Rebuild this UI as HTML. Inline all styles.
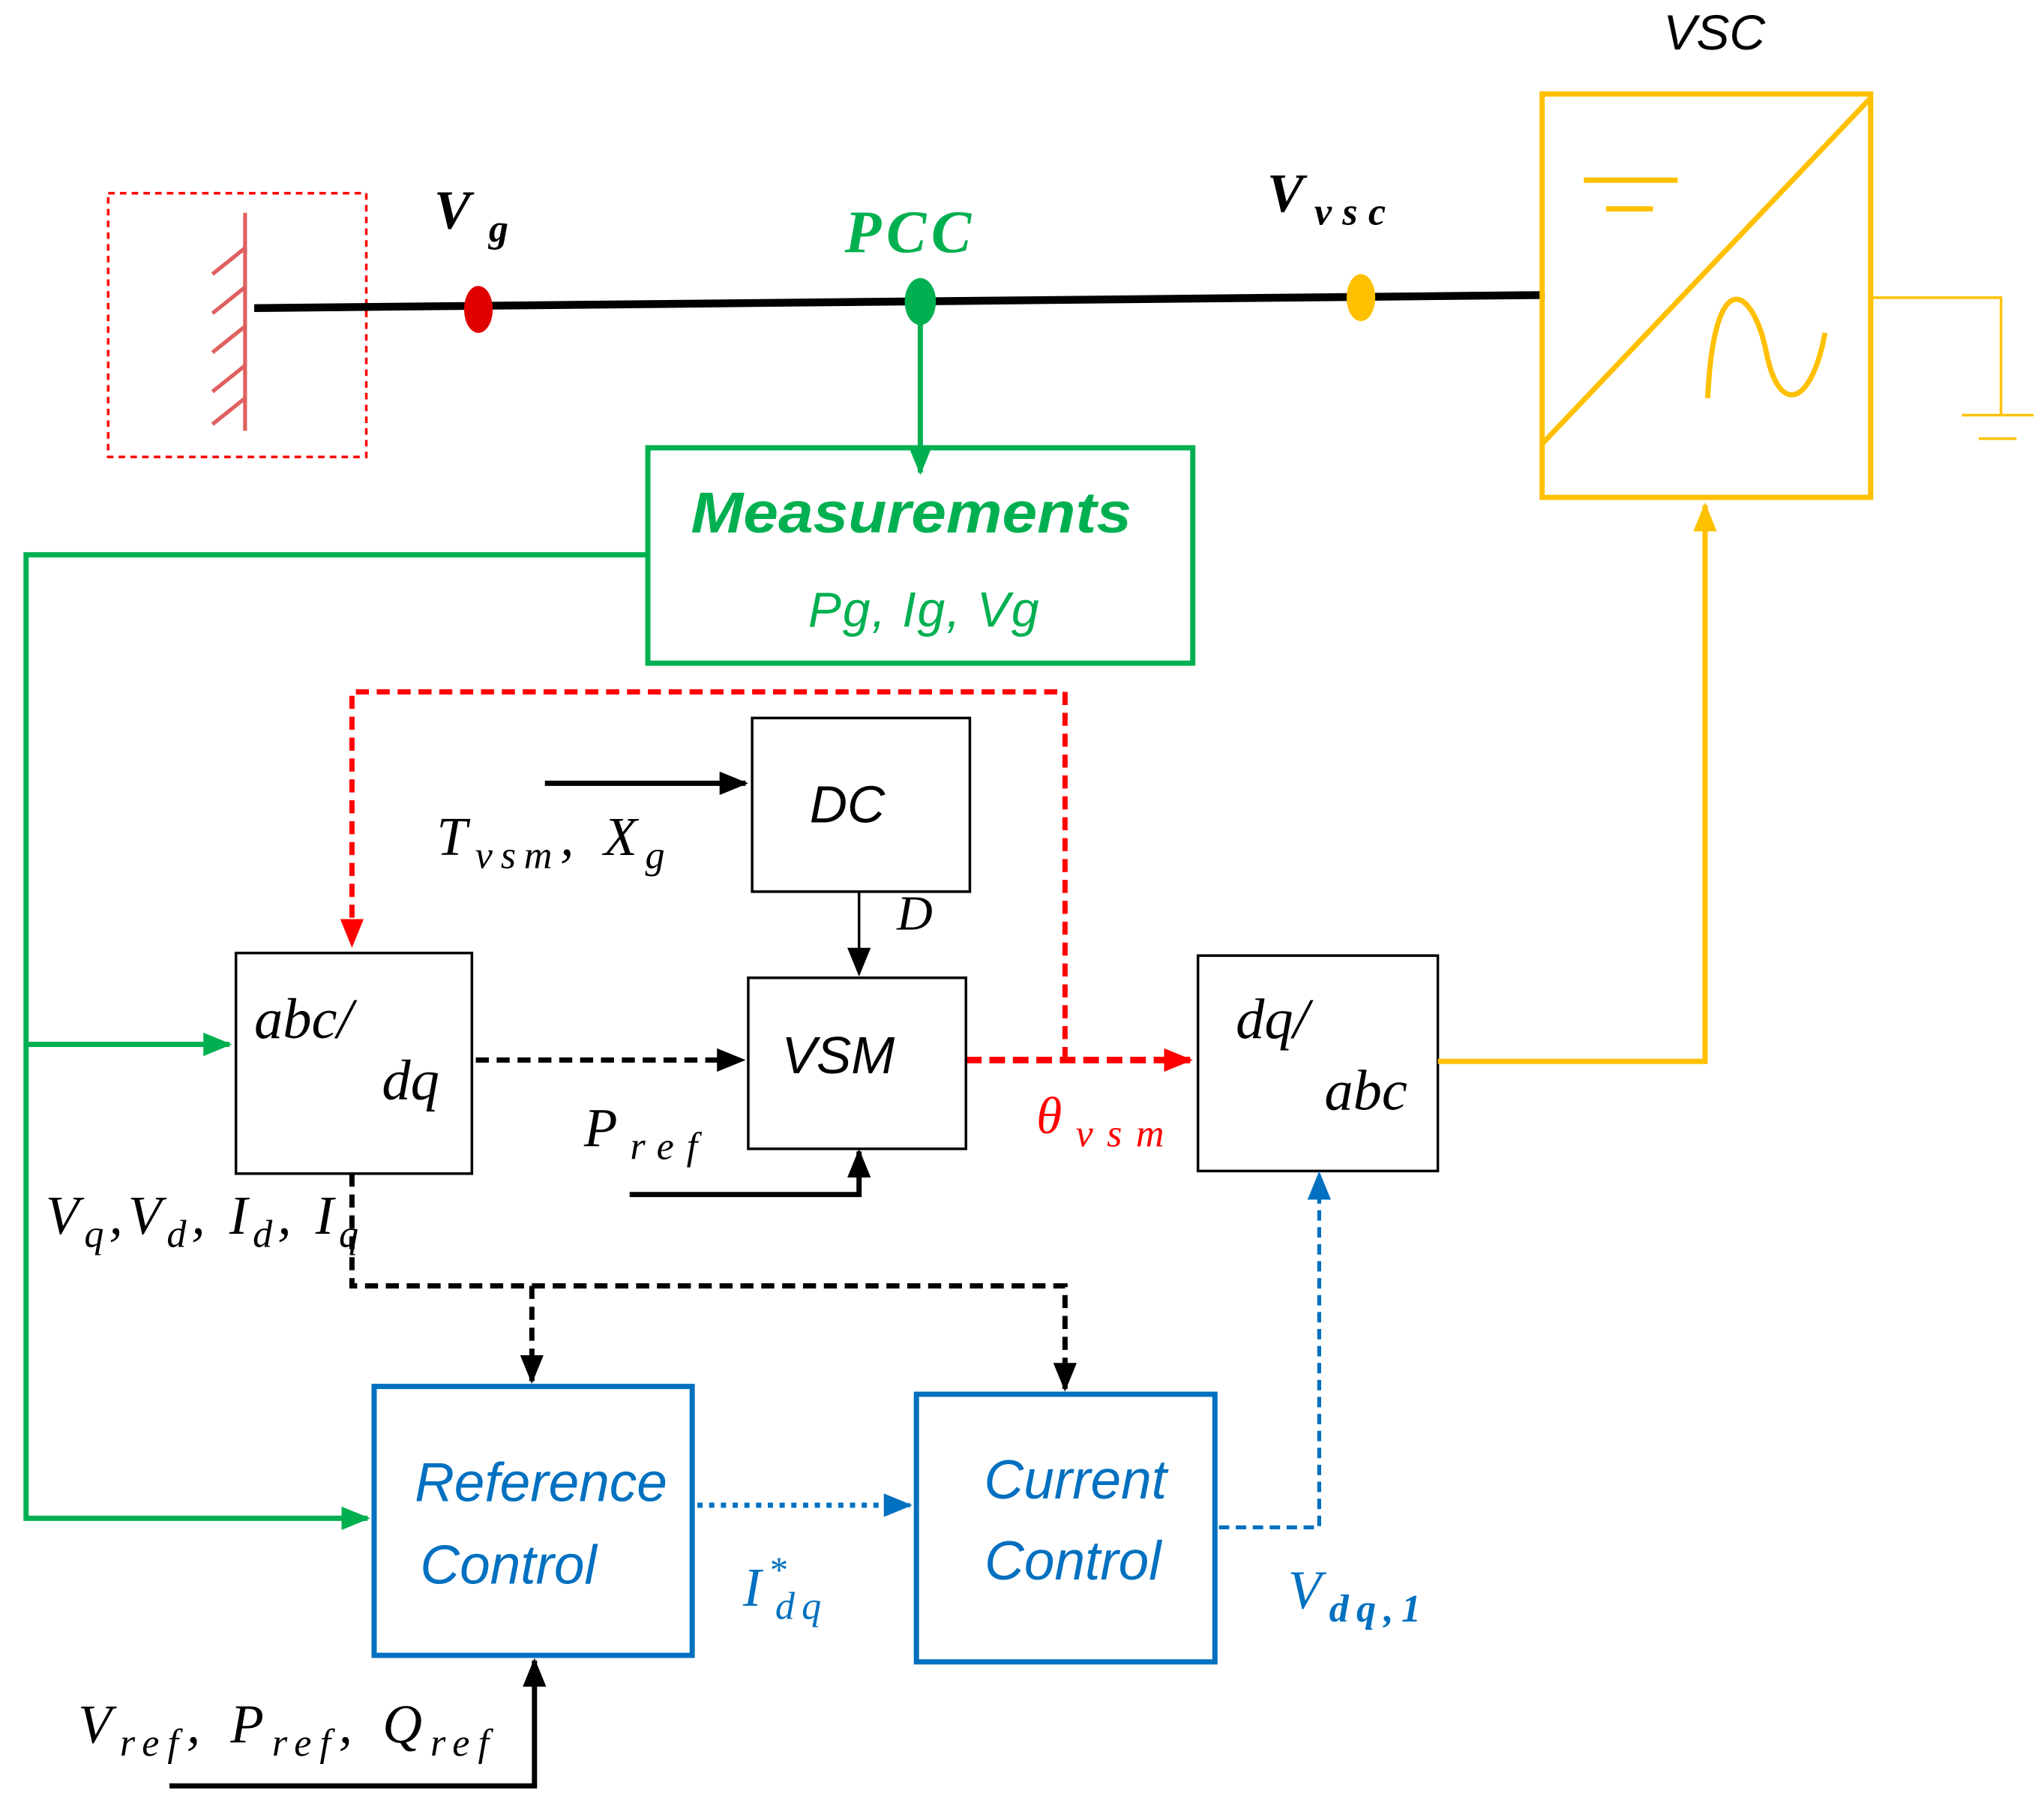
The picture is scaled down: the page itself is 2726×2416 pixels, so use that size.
<!DOCTYPE html>
<html><head><meta charset="utf-8"><style>
html,body{margin:0;padding:0;background:#fff;}
svg{display:block;}
.m{font-family:"Liberation Serif",serif;font-style:italic;}
.s{font-family:"Liberation Sans",sans-serif;font-style:italic;}
</style></head><body>
<svg width="2726" height="2416" viewBox="0 0 1568 1388" preserveAspectRatio="none" xmlns="http://www.w3.org/2000/svg">
<defs>
<marker id="ag" markerWidth="22" markerHeight="18" refX="20" refY="9" orient="auto" markerUnits="userSpaceOnUse"><path d="M0,0 L22,9 L0,18z" fill="#00b050"/></marker>
<marker id="ab" markerWidth="22" markerHeight="18" refX="20" refY="9" orient="auto" markerUnits="userSpaceOnUse"><path d="M0,0 L22,9 L0,18z" fill="#000"/></marker>
<marker id="ar" markerWidth="22" markerHeight="18" refX="20" refY="9" orient="auto" markerUnits="userSpaceOnUse"><path d="M0,0 L22,9 L0,18z" fill="#ff0000"/></marker>
<marker id="abl" markerWidth="22" markerHeight="18" refX="20" refY="9" orient="auto" markerUnits="userSpaceOnUse"><path d="M0,0 L22,9 L0,18z" fill="#0070c0"/></marker>
<marker id="ay" markerWidth="22" markerHeight="18" refX="20" refY="9" orient="auto" markerUnits="userSpaceOnUse"><path d="M0,0 L22,9 L0,18z" fill="#ffc000"/></marker>
</defs>
<rect x="83" y="148" width="198" height="202" fill="none" stroke="#ff0000" stroke-width="2" stroke-dasharray="5,4"/>
<g stroke="#e06060" stroke-width="3">
<line x1="188" y1="163" x2="188" y2="330"/>
<line x1="188" y1="190" x2="163" y2="210"/>
<line x1="188" y1="220" x2="163" y2="240"/>
<line x1="188" y1="250" x2="163" y2="270"/>
<line x1="188" y1="280" x2="163" y2="300"/>
<line x1="188" y1="305" x2="163" y2="325"/>
</g>
<line x1="195" y1="236" x2="1185" y2="226" stroke="#000" stroke-width="6"/>
<ellipse cx="367" cy="237" rx="11" ry="18" fill="#e00000"/>
<ellipse cx="706" cy="231" rx="12" ry="18" fill="#00b050"/>
<ellipse cx="1044" cy="228" rx="11" ry="18" fill="#ffc000"/>
<text x="333" y="175" class="m" font-size="42" font-weight="bold" textLength="57" lengthAdjust="spacing">V<tspan font-size="30" dy="10">g</tspan></text>
<text x="648" y="193" class="m" font-size="46" font-weight="bold" fill="#00b050" textLength="97" lengthAdjust="spacing">PCC</text>
<text x="972" y="162" class="m" font-size="42" font-weight="bold" textLength="91" lengthAdjust="spacing">V<tspan font-size="30" dy="10">vsc</tspan></text>
<text x="1276" y="38" class="s" font-size="38">VSC</text>
<rect x="1183" y="72" width="252" height="309" fill="none" stroke="#ffc000" stroke-width="4"/>
<line x1="1183" y1="340" x2="1435" y2="75" stroke="#ffc000" stroke-width="4"/>
<line x1="1215" y1="138" x2="1287" y2="138" stroke="#ffc000" stroke-width="4"/>
<line x1="1232" y1="160" x2="1268" y2="160" stroke="#ffc000" stroke-width="4"/>
<path d="M1310,305 C1315,200 1345,220 1355,270 C1365,320 1390,310 1400,255" fill="none" stroke="#ffc000" stroke-width="4"/>
<polyline points="1435,228 1535,228 1535,318" fill="none" stroke="#ffc000" stroke-width="2"/>
<line x1="1505" y1="318" x2="1560" y2="318" stroke="#ffc000" stroke-width="2"/>
<line x1="1518" y1="336" x2="1547" y2="336" stroke="#ffc000" stroke-width="2"/>
<line x1="706" y1="240" x2="706" y2="362" stroke="#00b050" stroke-width="4" marker-end="url(#ag)"/>
<rect x="497" y="343" width="418" height="165" fill="none" stroke="#00b050" stroke-width="4"/>
<text x="530" y="408" class="s" font-size="44" font-weight="bold" fill="#00b050" textLength="338" lengthAdjust="spacingAndGlyphs">Measurements</text>
<text x="620" y="480" class="s" font-size="38" fill="#00b050" textLength="177" lengthAdjust="spacing">Pg, Ig, Vg</text>
<polyline points="497,425 20,425 20,1163 282,1163" fill="none" stroke="#00b050" stroke-width="4" marker-end="url(#ag)"/>
<line x1="20" y1="800" x2="176" y2="800" stroke="#00b050" stroke-width="4" marker-end="url(#ag)"/>
<polyline points="817,812 817,530 270,530 270,724" fill="none" stroke="#ff0000" stroke-width="4" stroke-dasharray="10,6" marker-end="url(#ar)"/>
<line x1="741" y1="812" x2="913" y2="812" stroke="#ff0000" stroke-width="5" stroke-dasharray="12,6" marker-end="url(#ar)"/>
<text x="795" y="868" class="m" font-size="40" fill="#ff0000" textLength="98" lengthAdjust="spacing">θ<tspan font-size="30" dy="10">vsm</tspan></text>
<rect x="577" y="550" width="167" height="133" fill="none" stroke="#000" stroke-width="2"/>
<text x="650" y="630" text-anchor="middle" class="s" font-size="40">DC</text>
<line x1="418" y1="600" x2="572" y2="600" stroke="#000" stroke-width="4" marker-end="url(#ab)"/>
<text x="335" y="655" class="m" font-size="42" textLength="175" lengthAdjust="spacing">T<tspan font-size="30" dy="10">vsm</tspan><tspan dy="-10">, X</tspan><tspan font-size="30" dy="10">g</tspan></text>
<line x1="659" y1="683" x2="659" y2="746" stroke="#000" stroke-width="2" marker-end="url(#ab)"/>
<text x="688" y="712" class="m" font-size="38">D</text>
<rect x="574" y="749" width="167" height="131" fill="none" stroke="#000" stroke-width="2"/>
<text x="643" y="822" text-anchor="middle" class="s" font-size="40">VSM</text>
<text x="448" y="878" class="m" font-size="42" textLength="87" lengthAdjust="spacing">P<tspan font-size="30" dy="10">ref</tspan></text>
<polyline points="483,915 659,915 659,882" fill="none" stroke="#000" stroke-width="4" marker-end="url(#ab)"/>
<rect x="181" y="730" width="181" height="169" fill="none" stroke="#000" stroke-width="2"/>
<text x="195" y="795" class="m" font-size="44">abc/</text>
<text x="293" y="842" class="m" font-size="44">dq</text>
<line x1="365" y1="812" x2="570" y2="812" stroke="#000" stroke-width="4" stroke-dasharray="10,6" marker-end="url(#ab)"/>
<rect x="919" y="732" width="184" height="165" fill="none" stroke="#000" stroke-width="2"/>
<text x="948" y="795" class="m" font-size="44">dq/</text>
<text x="1016" y="850" class="m" font-size="44">abc</text>
<polyline points="1103,813 1308,813 1308,387" fill="none" stroke="#ffc000" stroke-width="4" marker-end="url(#ay)"/>
<text x="35" y="945" class="m" font-size="42" textLength="240" lengthAdjust="spacing">V<tspan font-size="30" dy="10">q</tspan><tspan dy="-10">,V</tspan><tspan font-size="30" dy="10">d</tspan><tspan dy="-10">, I</tspan><tspan font-size="30" dy="10">d</tspan><tspan dy="-10">, I</tspan><tspan font-size="30" dy="10">q</tspan></text>
<polyline points="270,899 270,985 817,985 817,1064" fill="none" stroke="#000" stroke-width="4" stroke-dasharray="10,6" marker-end="url(#ab)"/>
<line x1="408" y1="985" x2="408" y2="1058" stroke="#000" stroke-width="4" stroke-dasharray="10,6" marker-end="url(#ab)"/>
<rect x="287" y="1062" width="244" height="206" fill="none" stroke="#0070c0" stroke-width="4"/>
<text x="415" y="1150" text-anchor="middle" class="s" font-size="42" fill="#0070c0">Reference</text>
<text x="390" y="1213" text-anchor="middle" class="s" font-size="42" fill="#0070c0">Control</text>
<line x1="535" y1="1153" x2="698" y2="1153" stroke="#0070c0" stroke-width="4" stroke-dasharray="4,5" marker-end="url(#abl)"/>
<text x="570" y="1230" class="m" font-size="42" fill="#0070c0" textLength="60" lengthAdjust="spacing">I<tspan font-size="28" dy="-18">*</tspan><tspan font-size="30" dy="28" dx="-14">dq</tspan></text>
<rect x="703" y="1068" width="229" height="205" fill="none" stroke="#0070c0" stroke-width="4"/>
<text x="825" y="1148" text-anchor="middle" class="s" font-size="42" fill="#0070c0">Current</text>
<text x="823" y="1210" text-anchor="middle" class="s" font-size="42" fill="#0070c0">Control</text>
<polyline points="935,1170 1012,1170 1012,899" fill="none" stroke="#0070c0" stroke-width="3" stroke-dasharray="8,5" marker-end="url(#abl)"/>
<text x="988" y="1232" class="m" font-size="42" fill="#0070c0" textLength="102" lengthAdjust="spacing">V<tspan font-size="30" dy="10" font-weight="bold">dq,1</tspan></text>
<text x="60" y="1335" class="m" font-size="42" textLength="315" lengthAdjust="spacing">V<tspan font-size="30" dy="10">ref</tspan><tspan dy="-10">, P</tspan><tspan font-size="30" dy="10">ref</tspan><tspan dy="-10">, Q</tspan><tspan font-size="30" dy="10">ref</tspan></text>
<polyline points="130,1368 410,1368 410,1272" fill="none" stroke="#000" stroke-width="4" marker-end="url(#ab)"/>
</svg>
</body></html>
